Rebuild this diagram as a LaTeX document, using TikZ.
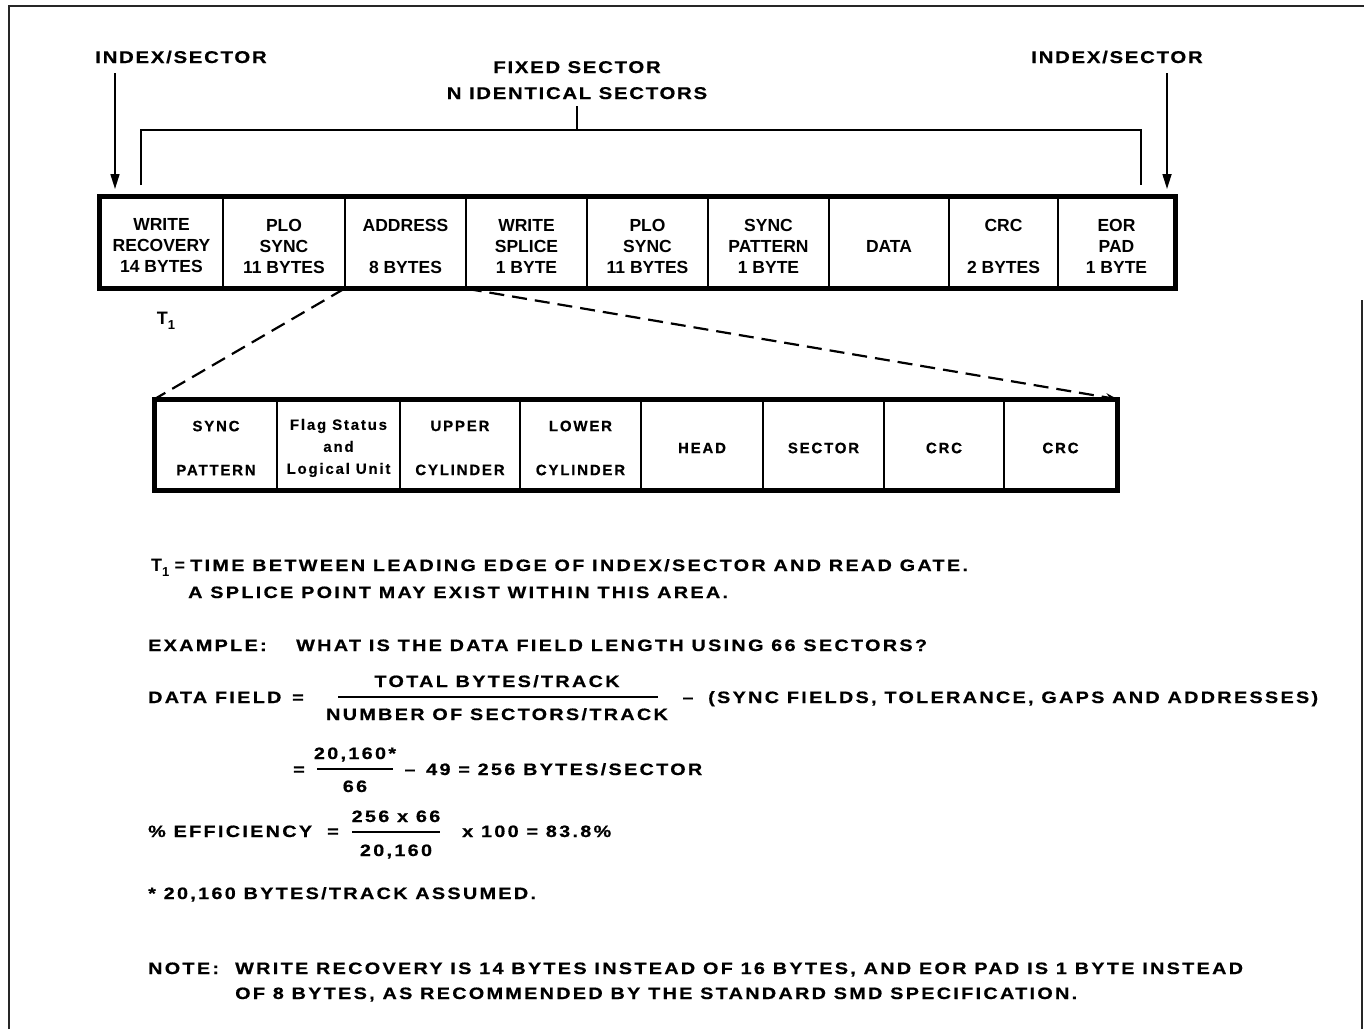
\documentclass[tikz,border=0pt]{standalone}
\usepackage{fontspec}
\setmainfont{Liberation Sans}
\newfontfamily\bodyfont[FakeStretch=1.2,LetterSpace=14,FakeBold=0.6]{Liberation Sans}
\newfontfamily\labfont[FakeStretch=1.2,LetterSpace=10,FakeBold=0.6]{Liberation Sans}
\newfontfamily\cellfont{Liberation Sans}
\newfontfamily\smallcellfont[LetterSpace=12,FakeBold=0.5]{Liberation Sans}
\usetikzlibrary{arrows.meta}
\newcommand{\subone}{\raisebox{-5pt}{\fontsize{13}{13}\selectfont 1}}
\tikzset{
  frame/.style={line width=1.4pt, black!85},
  cellbox/.style={draw, line width=1.5pt, minimum height=91pt, inner sep=0pt},
  celltext/.style={inner sep=0pt, align=center, font=\cellfont\bfseries\fontsize{17.5}{21}\selectfont},
  bcellbox/.style={draw, line width=1.5pt, minimum height=90pt, inner sep=0pt},
  bcelltext/.style={inner sep=0pt, align=center, font=\smallcellfont\bfseries\fontsize{15}{22}\selectfont},
  outer/.style={line width=5pt},
  body/.style={inner sep=0pt, text height=12pt, text depth=0pt, anchor=west,
    font=\bodyfont\bfseries\fontsize{16.5}{19}\selectfont},
  plain/.style={inner sep=0pt, text height=12pt, text depth=0pt, anchor=west,
    font=\cellfont\bfseries\fontsize{18}{19}\selectfont},
  lab/.style={inner sep=0pt, text height=12pt, text depth=0pt,
    font=\labfont\bfseries\fontsize{17}{21}\selectfont},
  idxarrow/.style={line width=1.6pt, -{Triangle[length=15pt,width=9pt]}},
  bracket/.style={line width=1.6pt},
  zoomline/.style={line width=2.2pt, dash pattern=on 15pt off 8pt},
  fracbar/.style={line width=1.5pt}
}
\begin{document}
\begin{tikzpicture}[x=1pt,y=-1pt]
\useasboundingbox (0,0) rectangle (1364,1029);
% frame
\draw[frame] (9,1029) -- (9,6) -- (1364,6);
\draw[frame] (1362,300) -- (1362,1029);

% top labels
\node[lab] (idxL) at (181,57) {INDEX/SECTOR};
\node[lab] (idxR) at (1117,57) {INDEX/SECTOR};
\node[lab] (fs1) at (577,67) {FIXED SECTOR};
\node[lab] (fs2) at (577,93) {N IDENTICAL SECTORS};

% top row of cells
\node[cellbox, minimum width=123pt] (t1) at (161.5,242.5) {};
\node[cellbox, minimum width=122pt] (t2) at (284,242.5) {};
\node[cellbox, minimum width=121pt] (t3) at (405.5,242.5) {};
\node[cellbox, minimum width=121pt] (t4) at (526.5,242.5) {};
\node[cellbox, minimum width=121pt] (t5) at (647.5,242.5) {};
\node[cellbox, minimum width=121pt] (t6) at (768.5,242.5) {};
\node[cellbox, minimum width=120pt] (t7) at (889,242.5) {};
\node[cellbox, minimum width=109pt] (t8) at (1003.5,242.5) {};
\node[cellbox, minimum width=117pt] (t9) at (1116.5,242.5) {};
\draw[outer] (t1.north west) rectangle (t9.south east);
\node[celltext] (t1x) at ([yshift=-3.5pt]t1.center) {WRITE\\RECOVERY\\14 BYTES};
\node[celltext] (t2x) at ([yshift=-3.5pt]t2.center) {PLO\\SYNC\\11 BYTES};
\node[celltext] (t3x) at ([yshift=-3.5pt]t3.center) {ADDRESS\\\mbox{}\\8 BYTES};
\node[celltext] (t4x) at ([yshift=-3.5pt]t4.center) {WRITE\\SPLICE\\1 BYTE};
\node[celltext] (t5x) at ([yshift=-3.5pt]t5.center) {PLO\\SYNC\\11 BYTES};
\node[celltext] (t6x) at ([yshift=-3.5pt]t6.center) {SYNC\\PATTERN\\1 BYTE};
\node[celltext] (t7x) at ([yshift=-3.5pt]t7.center) {DATA};
\node[celltext] (t8x) at ([yshift=-3.5pt]t8.center) {CRC\\\mbox{}\\2 BYTES};
\node[celltext] (t9x) at ([yshift=-3.5pt]t9.center) {EOR\\PAD\\1 BYTE};

% index arrows
\coordinate (aL) at (115,73);
\coordinate (aLe) at (115,189);
\coordinate (aR) at (1167,73);
\coordinate (aRe) at (1167,189);
\draw[idxarrow] (aL) -- (aLe);
\draw[idxarrow] (aR) -- (aRe);

% bracket
\coordinate (brT) at (577,106);
\coordinate (brM) at (577,130);
\coordinate (brL) at (141,185);
\coordinate (brR) at (1141,185);
\draw[bracket] (brT) -- (brM);
\draw[bracket] (brL) |- (brM) -| (brR);

% T1 label
\node[inner sep=0pt, font=\cellfont\bfseries\fontsize{18}{19}\selectfont] (T1) at (166,321) {T\subone};

% bottom row of cells
\node[bcellbox, minimum width=122pt] (b1) at (216,445) {};
\node[bcellbox, minimum width=123pt] (b2) at (338.5,445) {};
\node[bcellbox, minimum width=120pt] (b3) at (460,445) {};
\node[bcellbox, minimum width=121pt] (b4) at (580.5,445) {};
\node[bcellbox, minimum width=122pt] (b5) at (702,445) {};
\node[bcellbox, minimum width=121pt] (b6) at (823.5,445) {};
\node[bcellbox, minimum width=120pt] (b7) at (944,445) {};
\node[bcellbox, minimum width=113pt] (b8) at (1060.5,445) {};
\draw[outer] (b1.north west) rectangle (b8.south east);
\node[bcelltext] (b1x) at ([yshift=-3pt]b1.center) {SYNC\\\mbox{}\\PATTERN};
\node[bcelltext] (b2x) at ([yshift=-3pt]b2.center) {Flag Status\\and\\Logical Unit};
\node[bcelltext] (b3x) at ([yshift=-3pt]b3.center) {UPPER\\\mbox{}\\CYLINDER};
\node[bcelltext] (b4x) at ([yshift=-3pt]b4.center) {LOWER\\\mbox{}\\CYLINDER};
\node[bcelltext] (b5x) at ([yshift=-3pt]b5.center) {HEAD};
\node[bcelltext] (b6x) at ([yshift=-3pt]b6.center) {SECTOR};
\node[bcelltext] (b7x) at ([yshift=-3pt]b7.center) {CRC};
\node[bcelltext] (b8x) at ([yshift=-3pt]b8.center) {CRC};

% zoom lines
\draw[zoomline] (t3.south west) -- (b1.north west);
\draw[zoomline, -{Stealth[length=12pt,width=8pt]}] (t3.south east) -- (b8.north east);

% notes
\node[plain] (n1a) at (151,565) {T\subone};
\node[plain, anchor=center] (n1b) at (180,565) {=};
\node[body] (n1c) at (190,565) {TIME BETWEEN LEADING EDGE OF INDEX/SECTOR AND READ GATE.};
\node[body] (n1d) at (188,592) {A SPLICE POINT MAY EXIST WITHIN THIS AREA.};

\node[body] (ex1) at (148,645) {EXAMPLE:};
\node[body] (ex2) at (296,645) {WHAT IS THE DATA FIELD LENGTH USING 66 SECTORS?};

\node[body] (df) at (148,697) {DATA FIELD};
\node[body, anchor=center] (dfeq) at (298,697) {=};
\node[body, anchor=center] (dfnum) at (497,681) {TOTAL BYTES/TRACK};
\node[body, anchor=center] (dfden) at (497,714) {NUMBER OF SECTORS/TRACK};
\coordinate (dfbL) at (338,697);
\coordinate (dfbR) at (658,697);
\draw[fracbar] (dfbL) -- (dfbR);
\node[body, anchor=center] (dfm) at (688,697) {–};
\node[body] (dfr) at (708,697) {(SYNC FIELDS, TOLERANCE, GAPS AND ADDRESSES)};

\node[body, anchor=center] (e2eq) at (299,769) {=};
\node[body, anchor=center] (e2num) at (355,753) {20,160*};
\node[body, anchor=center] (e2den) at (355,786) {66};
\coordinate (e2bL) at (317,769);
\coordinate (e2bR) at (393,769);
\draw[fracbar] (e2bL) -- (e2bR);
\node[body, anchor=center] (e2m) at (410,769) {–};
\node[body] (e2r) at (426,769) {49 = 256 BYTES/SECTOR};

\node[body] (ef) at (148,831) {\% EFFICIENCY};
\node[body, anchor=center] (efeq) at (333,831) {=};
\node[body, anchor=center] (efnum) at (396,816) {256 x 66};
\node[body, anchor=center] (efden) at (396,850) {20,160};
\coordinate (efbL) at (352,832);
\coordinate (efbR) at (440,832);
\draw[fracbar] (efbL) -- (efbR);
\node[body] (efr) at (462,831) {x 100 = 83.8\%};

\node[body] (as) at (148,893) {* 20,160 BYTES/TRACK ASSUMED.};

\node[body] (nt) at (148,968) {NOTE:};
\node[body] (nt1) at (235,968) {WRITE RECOVERY IS 14 BYTES INSTEAD OF 16 BYTES, AND EOR PAD IS 1 BYTE INSTEAD};
\node[body] (nt2) at (235,993) {OF 8 BYTES, AS RECOMMENDED BY THE STANDARD SMD SPECIFICATION.};
\end{tikzpicture}
\end{document}
